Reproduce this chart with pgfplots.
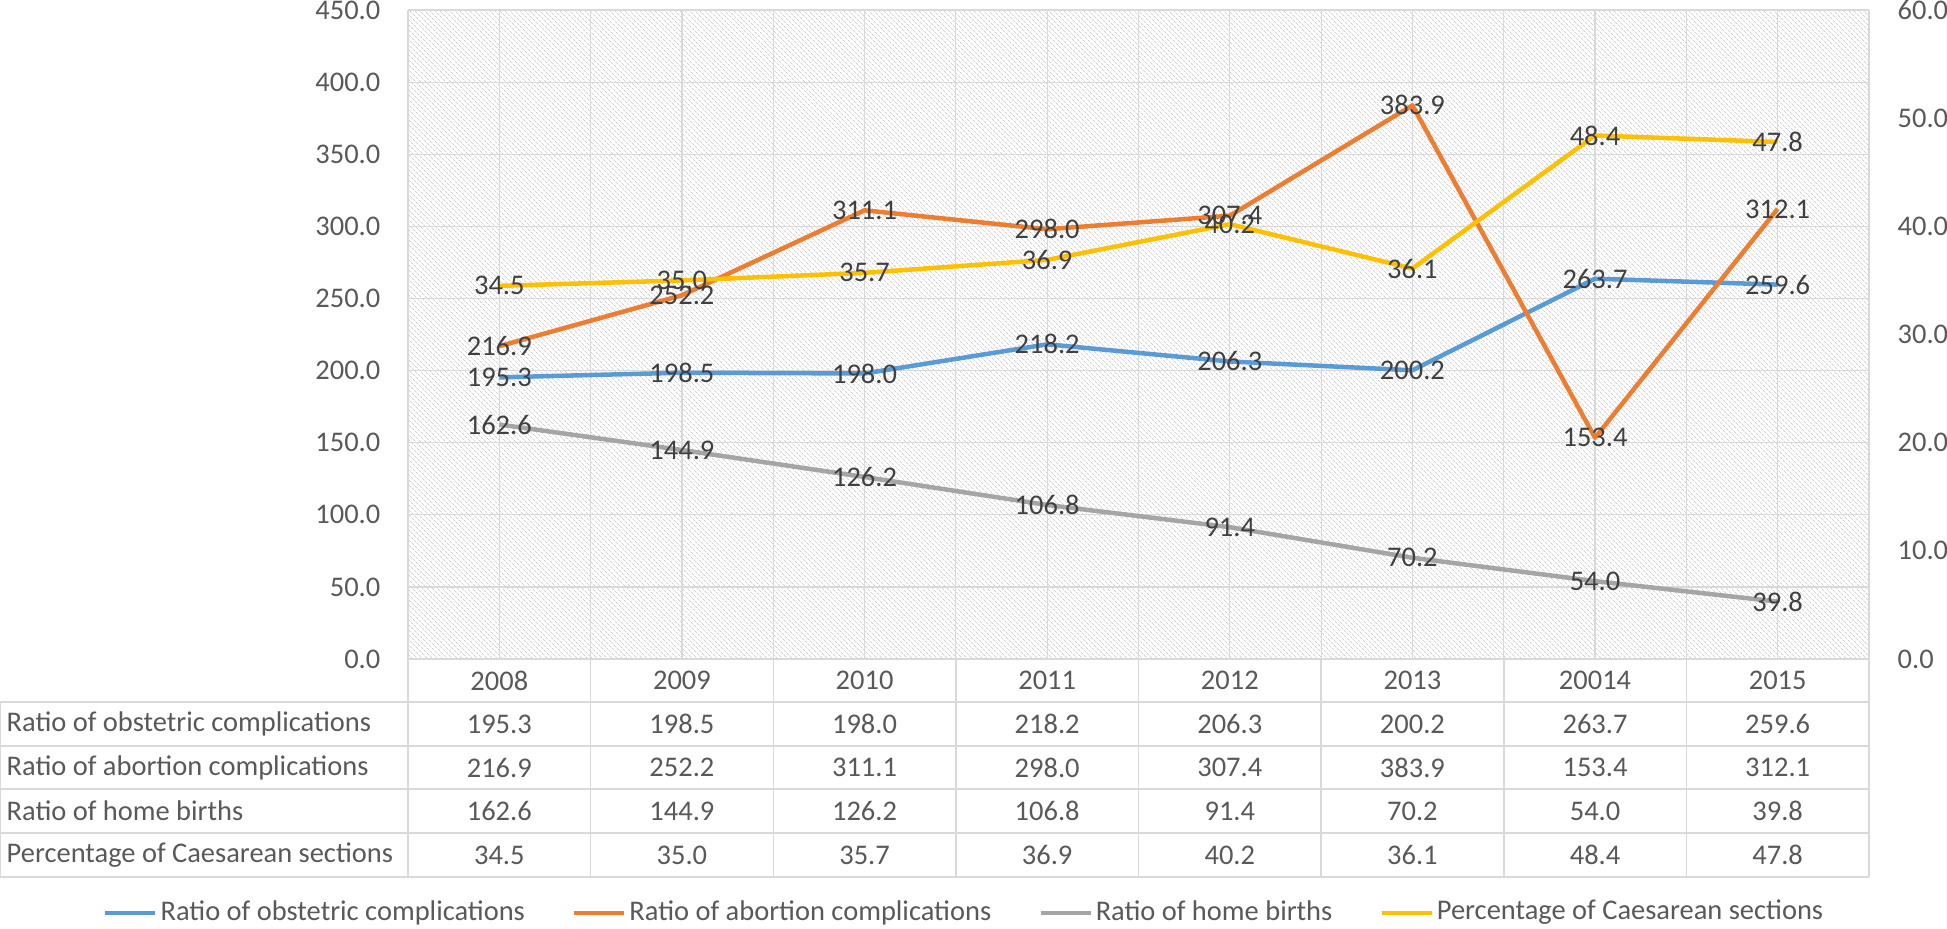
\documentclass[border=0pt]{standalone}
\usepackage{fontspec}
\setmainfont{Carlito}
\usepackage{pgfplots}
\usepackage{pgfplotstable}
\pgfplotsset{compat=1.18}
\usetikzlibrary{patterns.meta}
\definecolor{cB}{HTML}{5B9BD5}
\definecolor{cO}{HTML}{ED7D31}
\definecolor{cG}{HTML}{A5A5A5}
\definecolor{cY}{HTML}{FFC000}
\definecolor{cT}{HTML}{595959}
\definecolor{cL}{HTML}{404040}
\definecolor{cGrid}{HTML}{D9D9D9}
\definecolor{cHatch}{HTML}{D0D0D0}

\pgfplotstableread{
x year obst abort home caes
0 2008 195.3 216.9 162.6 34.5
1 2009 198.5 252.2 144.9 35.0
2 2010 198.0 311.1 126.2 35.7
3 2011 218.2 298.0 106.8 36.9
4 2012 206.3 307.4 91.4 40.2
5 2013 200.2 383.9 70.2 36.1
6 20014 263.7 153.4 54.0 48.4
7 2015 259.6 312.1 39.8 47.8
}\datatable

\pgfplotsset{
  /pgf/number format/assume math mode=true,
  mybase/.style={
    at={(40.8mm,26.9mm)}, anchor=south west,
    width=146.1mm, height=64.9mm, scale only axis,
    xmin=-0.5, xmax=7.5,
    major tick length=0, minor tick length=0,
    axis line style={draw=none},
    tick label style={text=cT, inner sep=0pt},
    yticklabel style={/pgf/number format/fixed, /pgf/number format/fixed zerofill, /pgf/number format/precision=1},
    nodes near coords={\pgfmathprintnumber[fixed,fixed zerofill,precision=1]{\pgfplotspointmeta}},
    every node near coord/.append style={anchor=center, inner sep=0pt, text=cL},
    clip=false,
  },
}

\begin{document}
\begin{tikzpicture}[font=\fontsize{8.1}{9.7}\selectfont]
\path[use as bounding box] (0,0) rectangle (194.7mm,92.8mm);

\begin{axis}[mybase,
  ymin=0, ymax=450, ytick={0,50,...,450},
  yticklabel shift=2.7mm,
  xtick={0,...,7}, xticklabels={},
  minor xtick={-0.5,0.5,...,7.5},
  xmajorgrids, xminorgrids, ymajorgrids,
  grid style={cGrid, line width=0.12mm},
  minor grid style={cGrid, line width=0.12mm},
  axis background/.style={pattern={Lines[angle=-45,distance=0.38mm,line width=0.08mm]}, pattern color=cHatch},
  legend style={at={(0.381,-0.391)}, anchor=center, draw=none, fill=none,
    legend columns=4, text=cT,
    /tikz/every even column/.append style={column sep=4.4mm},
    nodes={inner sep=0.3mm}},
  legend image code/.code={\draw[#1, line width=0.45mm] (0mm,0mm) -- (5mm,0mm);},
]
\addplot[cB, line width=0.45mm, line join=round] table[x=x,y=obst]{\datatable};
\addlegendentry{Ratio of obstetric complications}
\addplot[cO, line width=0.45mm, line join=round] table[x=x,y=abort]{\datatable};
\addlegendentry{Ratio of abortion complications}
\addplot[cG, line width=0.45mm, line join=round] table[x=x,y=home]{\datatable};
\addlegendentry{Ratio of home births}
\addlegendimage{cY, line width=0.45mm}
\addlegendentry{Percentage of Caesarean sections}
\end{axis}

\begin{axis}[mybase,
  ymin=0, ymax=60, ytick={0,10,...,60},
  axis y line*=right, axis x line=none,
  yticklabel shift=2.8mm,
  every y tick label/.append style={anchor=west},
]
\addplot[cY, line width=0.45mm, line join=round] table[x=x,y=caes]{\datatable};
\end{axis}

% data table
\begin{scope}[cGrid, line width=0.15mm]
\foreach \k in {0,...,8}{
  \pgfmathsetmacro{\vx}{40.8+\k*18.2625}
  \draw (\vx mm, 26.9mm) -- (\vx mm, 5.1mm);
}
\draw (40.8mm,26.9mm) -- (186.9mm,26.9mm);
\foreach \yy in {22.6,18.2,13.9,9.5,5.1}{
  \draw (0mm,\yy mm) -- (186.9mm,\yy mm);
}
\draw (0mm,22.6mm) -- (0mm,5.1mm);
\end{scope}

\begin{scope}[every node/.style={text=cT, inner sep=0pt}]
\node[anchor=west] at (0.6mm,20.4mm) {Ratio of obstetric complications};
\node[anchor=west] at (0.6mm,16.05mm) {Ratio of abortion complications};
\node[anchor=west] at (0.6mm,11.7mm) {Ratio of home births};
\node[anchor=west] at (0.6mm,7.3mm) {Percentage of Caesarean sections};
\foreach \i in {0,...,7}{
  \pgfmathsetmacro{\cx}{40.8+(\i+0.5)*18.2625}
  \pgfplotstablegetelem{\i}{year}\of\datatable
  \node at (\cx mm,24.75mm) {\pgfplotsretval};
  \pgfplotstablegetelem{\i}{obst}\of\datatable
  \node at (\cx mm,20.4mm) {\pgfplotsretval};
  \pgfplotstablegetelem{\i}{abort}\of\datatable
  \node at (\cx mm,16.05mm) {\pgfplotsretval};
  \pgfplotstablegetelem{\i}{home}\of\datatable
  \node at (\cx mm,11.7mm) {\pgfplotsretval};
  \pgfplotstablegetelem{\i}{caes}\of\datatable
  \node at (\cx mm,7.3mm) {\pgfplotsretval};
}
\end{scope}
\end{tikzpicture}
\end{document}
